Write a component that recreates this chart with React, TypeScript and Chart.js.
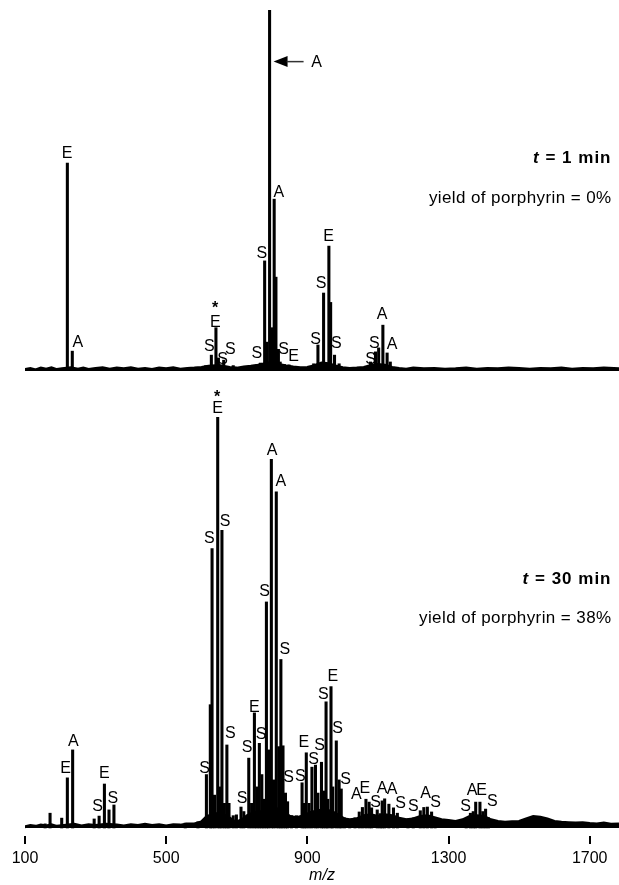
import React, { useEffect, useRef } from "react";
import { Chart, registerables } from "chart.js";
Chart.register(...registerables);

const FONT = "'Liberation Sans', Arial, Helvetica, sans-serif";
const X_MIN = 100;
const X_MAX = 1783;
const tickValues = [100, 500, 900, 1300, 1700];

// ---- Top panel: t = 1 min (relative intensity, %) ----
const topPeaks: [number, number][] = [
  [171, 0.8], [220, 57.6], [234, 5.5], [612, 1.5], [628, 4.4], [641, 12], [648, 3.6], [663, 3],
  [690, 1.5], [767, 2.2], [779, 30.5], [785, 8], [793, 100], [799, 12], [806, 47.6], [811, 26],
  [818, 6], [823, 2.5], [835, 1.8], [848, 1.7], [918, 2], [930, 7.2], [946, 21.6], [961, 34.6],
  [966, 19], [977, 4.4], [990, 2], [1079, 2.5], [1093, 5.3], [1102, 6.4], [1114, 12.7],
  [1126, 5], [1135, 2.5],
];
const topNoise: [number, number][] = [
  [100, 0.4], [115, 0.7], [130, 0.3], [145, 0.8], [160, 0.5], [175, 0.9], [190, 0.4], [205, 0.6],
  [230, 0.9], [250, 0.5], [265, 0.8], [280, 0.4], [300, 0.7], [320, 0.9], [340, 0.5], [360, 0.8],
  [380, 0.6], [400, 0.9], [420, 0.5], [440, 0.7], [460, 0.4], [480, 0.8], [500, 0.6], [520, 0.9],
  [540, 0.5], [560, 0.7], [580, 0.8], [600, 1.0], [620, 1.3], [650, 1.5], [680, 1.0], [700, 0.8],
  [720, 1.1], [740, 1.3], [760, 1.6], [780, 2.0], [800, 2.4], [820, 1.8], [840, 1.4], [860, 1.1],
  [880, 0.9], [900, 1.0], [920, 1.5], [940, 2.2], [960, 2.0], [980, 1.4], [1000, 0.9], [1020, 0.7],
  [1040, 0.8], [1060, 1.0], [1080, 1.5], [1100, 1.8], [1120, 1.6], [1140, 1.0], [1160, 0.7],
  [1180, 0.5], [1200, 0.8], [1230, 0.6], [1260, 0.7], [1290, 0.5], [1320, 0.6], [1350, 0.8],
  [1380, 0.5], [1410, 0.7], [1440, 0.6], [1470, 0.8], [1500, 0.7], [1530, 0.5], [1560, 0.7],
  [1590, 0.6], [1620, 0.8], [1650, 0.5], [1680, 0.7], [1710, 0.6], [1740, 0.8], [1783, 0.6],
];
const topLabels: [string, number, number][] = [
  ["E", 219, 60.7], ["A", 250, 8.3], ["*", 639, 18.6], ["E", 639, 13.9], ["S", 622, 7.2],
  ["S", 660, 3.5], ["S", 682, 6.3], ["S", 757, 5.3], ["S", 771, 33], ["A", 819, 49.7],
  ["S", 833, 6.3], ["E", 861, 4.4], ["S", 923, 9], ["S", 939, 24.5], ["E", 960, 37.7],
  ["S", 982, 8.1], ["S", 1079, 3.5], ["S", 1090, 8.1], ["A", 1112, 16], ["A", 1140, 7.7],
];
const topArrow: [string, number, number] = ["A", 793, 85.7];
const topTitle = ["1 min", "yield of porphyrin = 0%"];

// ---- Bottom panel: t = 30 min (relative intensity, %) ----
const bottomPeaks: [number, number][] = [
  [157, 1], [171, 3.6], [204, 2.4], [220, 12.2], [235, 19], [296, 2.2], [310, 2.9], [325, 10.7],
  [338, 4.4], [352, 5.6], [554, 1.2], [590, 1.5], [614, 13], [625, 30], [630, 68], [637, 8],
  [646, 100], [652, 10], [658, 72.4], [665, 6], [672, 20.2], [678, 6], [690, 3], [699, 3.2],
  [712, 5.1], [720, 4], [734, 17], [742, 6], [750, 28], [757, 10], [764, 20.6], [771, 13],
  [777, 7], [784, 55], [790, 19], [798, 89.7], [804, 11.7], [812, 81.8], [819, 19.8], [825, 41],
  [831, 20], [838, 8.5], [844, 6.4], [855, 3], [869, 3], [885, 11], [891, 6], [897, 18.3],
  [905, 6], [913, 14.8], [923, 15.3], [930, 8.5], [940, 16], [946, 9], [953, 30.7], [958, 7],
  [967, 34.4], [972, 10], [982, 21.2], [990, 11.7], [996, 9.5], [1005, 2.5], [1020, 2],
  [1035, 2.5], [1047, 3.9], [1056, 5], [1066, 7], [1075, 6.3], [1082, 4.9], [1098, 4.4],
  [1106, 3.5], [1112, 6.6], [1119, 7.1], [1131, 5.8], [1144, 4.9], [1155, 3.6], [1185, 2.2],
  [1200, 2.5], [1220, 4.2], [1230, 5], [1240, 5.1], [1252, 3.9], [1262, 2.5], [1350, 2],
  [1362, 3.6], [1370, 4], [1377, 6.3], [1389, 6.3], [1397, 4], [1405, 4.6], [1413, 2.5],
];
const bottomNoise: [number, number][] = [
  [100, 0.3], [115, 0.6], [130, 0.4], [145, 0.7], [160, 0.5], [175, 0.8], [190, 0.4], [210, 0.6],
  [240, 0.9], [260, 0.5], [280, 0.8], [300, 0.6], [330, 0.9], [360, 0.7], [380, 0.5], [400, 0.8],
  [420, 0.6], [440, 0.9], [460, 0.6], [480, 0.8], [500, 0.5], [520, 0.8], [540, 0.7], [560, 1.0],
  [580, 1.0], [600, 1.5], [615, 2.8], [640, 3.5], [670, 3.0], [690, 1.8], [700, 1.5], [715, 2.0],
  [730, 3.0], [750, 3.8], [770, 4.0], [790, 4.5], [810, 4.8], [830, 4.2], [850, 2.8], [870, 2.5],
  [890, 3.0], [910, 3.8], [930, 4.2], [950, 4.5], [970, 4.0], [990, 3.0], [1005, 2.2], [1020, 2.0],
  [1040, 2.2], [1060, 3.0], [1080, 3.2], [1100, 2.8], [1120, 3.2], [1140, 3.0], [1160, 2.4],
  [1180, 2.0], [1200, 2.2], [1220, 2.8], [1240, 3.0], [1260, 2.5], [1280, 2.0], [1300, 1.8],
  [1320, 1.6], [1340, 2.0], [1360, 2.8], [1380, 3.0], [1400, 2.8], [1420, 2.0], [1440, 1.6],
  [1460, 1.4], [1480, 1.5], [1500, 1.6], [1520, 2.2], [1540, 2.8], [1560, 2.6], [1580, 2.2],
  [1600, 1.6], [1620, 1.4], [1640, 1.3], [1660, 1.2], [1680, 1.3], [1700, 1.1], [1720, 1.0],
  [1740, 1.2], [1760, 0.9], [1783, 1.0],
];
const bottomLabels: [string, number, number][] = [
  ["A", 237, 21.4], ["E", 215, 14.9], ["E", 325, 13.5], ["S", 306, 5.6], ["S", 349, 7.6],
  ["S", 609, 14.9], ["S", 622, 70.7], ["*", 644, 105.9], ["E", 646, 102.5], ["S", 667, 74.8],
  ["S", 682, 23.4], ["S", 715, 7.6], ["S", 729, 19.8], ["E", 750, 29.7], ["S", 769, 23],
  ["S", 779, 57.9], ["A", 800, 92.1], ["A", 825, 84.7], ["S", 836, 43.7], ["S", 847, 12.5],
  ["S", 880, 12.9], ["E", 890, 21], ["S", 918, 17], ["S", 935, 20.4], ["S", 945, 32.8],
  ["E", 972, 37.2], ["S", 986, 24.5], ["S", 1008, 12.2], ["A", 1039, 8.4], ["E", 1063, 10],
  ["S", 1093, 6.6], ["A", 1112, 9.9], ["A", 1140, 9.7], ["S", 1164, 6.2], ["S", 1200, 5.6],
  ["A", 1235, 8.6], ["S", 1263, 6.4], ["S", 1348, 5.6], ["A", 1367, 9.4], ["E", 1394, 9.4],
  ["S", 1424, 6.8],
];
const bottomTitle = ["30 min", "yield of porphyrin = 38%"];

function annotationPlugin(labels: [string, number, number][], title: string[], titleY: number[], arrow?: [string, number, number]) {
  return {
    id: "annotations",
    afterDatasetsDraw(chart: any) {
      const { ctx, scales, chartArea } = chart;
      const x = scales.x, y = scales.y;
      ctx.save();
      ctx.fillStyle = "#000";
      ctx.textAlign = "center";
      ctx.textBaseline = "alphabetic";
      ctx.font = `16px ${FONT}`;
      for (const [t, mz, v] of labels) {
        const px = x.getPixelForValue(mz);
        const py = y.getPixelForValue(v);
        if (t === "*") {
          ctx.font = `bold 16px ${FONT}`;
          ctx.fillText(t, px, py + 9);
          ctx.font = `16px ${FONT}`;
        } else {
          ctx.fillText(t, px, py + 5.8);
        }
      }
      if (arrow) {
        const ax = x.getPixelForValue(arrow[1]) + 4;
        const ay = y.getPixelForValue(arrow[2]);
        ctx.beginPath();
        ctx.moveTo(ax, ay);
        ctx.lineTo(ax + 14, ay - 5.5);
        ctx.lineTo(ax + 14, ay + 5.5);
        ctx.closePath();
        ctx.fill();
        ctx.strokeStyle = "#333";
        ctx.lineWidth = 1.5;
        ctx.beginPath();
        ctx.moveTo(ax + 13, ay);
        ctx.lineTo(ax + 30, ay);
        ctx.stroke();
        ctx.fillText(arrow[0], ax + 43, ay + 5.8);
      }
      // panel titles, right aligned
      const right = chartArea.right - 7.5;
      ctx.textAlign = "left";
      (ctx as any).letterSpacing = "1px";
      ctx.font = `bold 17px ${FONT}`;
      const rest = " = " + title[0];
      const wRest = ctx.measureText(rest).width;
      ctx.font = `italic bold 17px ${FONT}`;
      const wT = ctx.measureText("t").width;
      const x0 = right - wRest - wT;
      ctx.fillText("t", x0, titleY[0] + 6);
      ctx.font = `bold 17px ${FONT}`;
      ctx.fillText(rest, x0 + wT, titleY[0] + 6);
      (ctx as any).letterSpacing = "0.4px";
      ctx.font = `17px ${FONT}`;
      ctx.textAlign = "right";
      ctx.fillText(title[1], right, titleY[1] + 6);
      ctx.restore();
    },
  };
}

function makeConfig(peaks: [number, number][], noise: [number, number][], yMin: number, showAxis: boolean, padding: any, plugin: any) {
  const xScale: any = {
    type: "linear",
    min: X_MIN,
    max: X_MAX,
    offset: false,
    display: showAxis,
    afterBuildTicks: (s: any) => {
      s.ticks = tickValues.map((v) => ({ value: v }));
    },
    grid: { display: true, offset: false, drawOnChartArea: false, drawTicks: true, tickLength: 8, color: "#000", lineWidth: 2 },
    border: { display: false },
    ticks: {
      autoSkip: false,
      maxRotation: 0,
      color: "#000",
      padding: 5,
      font: { size: 16, family: FONT },
      callback: (v: any) => String(v),
    },
    title: { display: true, text: "m/z", color: "#000", padding: { top: 0, bottom: 0 }, font: { size: 16, style: "italic", family: FONT } },
  };
  if (showAxis) {
    xScale.afterFit = (s: any) => {
      s.height = 49;
    };
  }
  return {
    type: "bar",
    data: {
      datasets: [
        {
          type: "line",
          data: noise.map(([mz, v]) => ({ x: mz, y: v })),
          borderColor: "#000",
          backgroundColor: "#000",
          borderWidth: 3,
          pointRadius: 0,
          tension: 0,
          fill: "origin",
          order: 2,
        },
        {
          type: "bar",
          data: peaks.map(([mz, v]) => ({ x: mz, y: v })),
          backgroundColor: "#000",
          borderWidth: 0,
          barThickness: 2.4,
          grouped: false,
          order: 1,
        },
      ],
    },
    options: {
      animation: false,
      responsive: false,
      maintainAspectRatio: false,
      layout: { padding },
      plugins: { legend: { display: false }, tooltip: { enabled: false } },
      scales: {
        x: xScale,
        y: { display: false, min: yMin, max: 100 },
      },
    },
    plugins: [plugin],
  };
}

export default function App() {
  const topRef = useRef<HTMLCanvasElement>(null);
  const botRef = useRef<HTMLCanvasElement>(null);
  useEffect(() => {
    const c1 = new Chart(
      topRef.current as any,
      makeConfig(topPeaks, topNoise, 0, false, { top: 10, bottom: 9, left: 25, right: 0 },
        annotationPlugin(topLabels, topTitle, [157, 197], topArrow)) as any
    );
    const c2 = new Chart(
      botRef.current as any,
      makeConfig(bottomPeaks, bottomNoise, -1.95, true, { top: 37, bottom: 0, left: 25, right: 0 },
        annotationPlugin(bottomLabels, bottomTitle, [198, 237])) as any
    );
    return () => {
      c1.destroy();
      c2.destroy();
    };
  }, []);
  return (
    <div style={{ position: "absolute", left: 0, top: 0, width: 619, height: 885, background: "#fff" }}>
      <canvas ref={topRef} width={619} height={380} style={{ position: "absolute", left: 0, top: 0 }} />
      <canvas ref={botRef} width={619} height={505} style={{ position: "absolute", left: 0, top: 380 }} />
    </div>
  );
}
